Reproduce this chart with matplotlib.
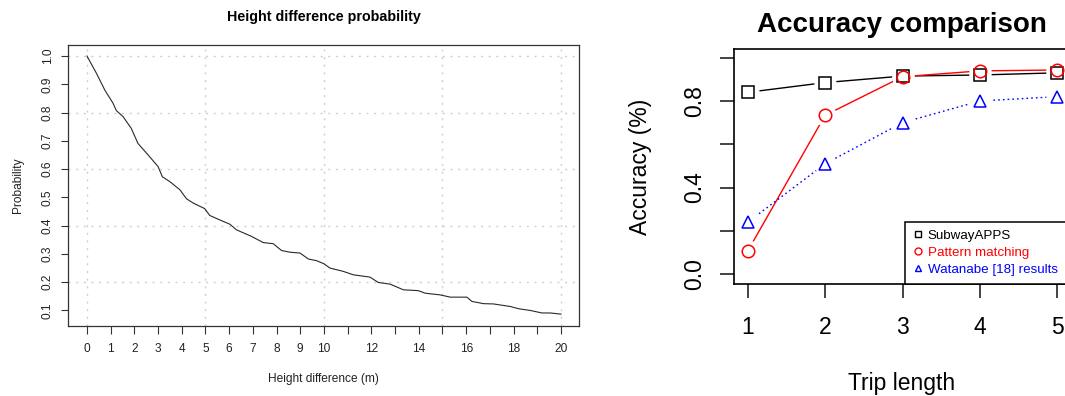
import matplotlib
matplotlib.use("Agg")
import matplotlib.pyplot as plt
from matplotlib.lines import Line2D

plt.rcParams["font.family"] = ["Liberation Sans", "DejaVu Sans"]

# Height difference vs. probability
height_diff = [0, 0.40, 0.75, 1.10, 1.24, 1.52, 1.87, 2.15, 2.58, 3.00, 3.18, 3.49,
               3.92, 4.20, 4.48, 4.97, 5.18, 5.61, 6.03, 6.31, 6.94, 7.44, 7.86,
               8.21, 8.56, 8.99, 9.34, 9.69, 10.00, 10.25, 10.82, 11.24, 11.94,
               12.29, 12.79, 13.35, 13.98, 14.27, 14.90, 15.33, 16.03, 16.24,
               16.73, 17.15, 17.86, 18.21, 18.70, 19.20, 19.55, 20.00]
probability = [1.000, 0.939, 0.880, 0.833, 0.807, 0.786, 0.744, 0.691, 0.650, 0.609,
               0.573, 0.556, 0.527, 0.495, 0.480, 0.460, 0.436, 0.420, 0.405, 0.385,
               0.362, 0.340, 0.336, 0.312, 0.306, 0.303, 0.282, 0.276, 0.265, 0.250,
               0.238, 0.226, 0.218, 0.199, 0.193, 0.173, 0.170, 0.161, 0.155, 0.147,
               0.147, 0.132, 0.124, 0.123, 0.114, 0.106, 0.100, 0.091, 0.091, 0.087]
height_ticks = list(range(0, 21))
height_labels = ["0", "1", "2", "3", "4", "5", "6", "7", "8", "9", "10", "",
                 "12", "", "14", "", "16", "", "18", "", "20"]
prob_ticks = [0.1, 0.2, 0.3, 0.4, 0.5, 0.6, 0.7, 0.8, 0.9, 1.0]
prob_labels = ["0.1", "0.2", "0.3", "0.4", "0.5", "0.6", "0.7", "0.8", "0.9", "1.0"]

# Accuracy by trip length
trip_length = [1, 2, 3, 4, 5]
subway_apps = [0.84, 0.885, 0.915, 0.92, 0.93]
pattern_matching = [0.107, 0.734, 0.912, 0.939, 0.943]
watanabe = [0.24, 0.51, 0.70, 0.80, 0.82]
acc_ticks = [0.0, 0.2, 0.4, 0.6, 0.8, 1.0]
acc_labels = ["0.0", "", "0.4", "", "0.8", ""]
series_names = ["SubwayAPPS", "Pattern matching", "Watanabe [18] results"]

W, H = 1065, 396
fig = plt.figure(figsize=(W / 100, H / 100), dpi=100)


def px_axes(left, top, right, bottom):
    return fig.add_axes([left / W, 1 - bottom / H, (right - left) / W, (bottom - top) / H])


# ---------------- left panel ----------------
ax1 = px_axes(68, 45, 579, 325.7)
ax1.plot(height_diff, probability, color="#2a2a2a", lw=0.8, zorder=3)
ax1.set_xlim(-0.8, 20.76)
ax1.set_ylim(0.046, 1.039)
for gx in [0, 5, 10, 15, 20]:
    ax1.axvline(gx, color="#cfcfcf", lw=1.0, ls=(0, (1.5, 4)), zorder=1)
for gy in [0.2, 0.4, 0.6, 0.8, 1.0]:
    ax1.axhline(gy, color="#cfcfcf", lw=1.0, ls=(0, (1.5, 4)), zorder=1)
ax1.set_xticks(height_ticks)
ax1.set_xticklabels(height_labels)
ax1.set_yticks(prob_ticks)
ax1.set_yticklabels(prob_labels)
ax1.tick_params(axis="both", direction="out", length=5.4, width=0.8,
                color="#333333", labelsize=8.6, labelcolor="#222222")
ax1.tick_params(axis="x", pad=7)
ax1.tick_params(axis="y", pad=5, labelrotation=90)
for lab in ax1.get_yticklabels():
    lab.set_va("center")
for sp in ax1.spines.values():
    sp.set_color("#333333")
    sp.set_linewidth(0.9)
ax1.set_title("Height difference probability", fontsize=10.3, fontweight="bold",
              y=1.0866, va="baseline", pad=0)
ax1.set_xlabel("Height difference (m)", fontsize=8.6, color="#222222")
ax1.xaxis.set_label_coords(0.5, -0.2006)
ax1.xaxis.label.set_va("baseline")
ax1.set_ylabel("Probability", fontsize=8.6, color="#222222")
ax1.yaxis.set_label_coords((18 - 68) / 511, 0.5)
ax1.yaxis.label.set(va="center", ha="center", rotation_mode="default")

# ---------------- right panel ----------------
ax2 = px_axes(734.3, 49, 1069.7, 284)
ax2.set_xlim(0.827, 5.16)
ax2.set_ylim(-0.045, 1.04)

styles = [
    (subway_apps, "black", "s", "-"),
    (pattern_matching, "red", "o", "-"),
    (watanabe, "blue", "^", (0, (1.2, 2.2))),
]
for vals, col, mk, ls in styles:
    ax2.plot(trip_length, vals, color=col, lw=1.0, ls=ls, zorder=2)
for vals, col, mk, ls in styles:
    # clear a small gap around each point, as in a "both" type plot
    ax2.plot(trip_length, vals, ls="none", marker="o", ms=15, mfc="white",
             mec="white", zorder=3)
for vals, col, mk, ls in styles:
    ax2.plot(trip_length, vals, ls="none", marker=mk, ms=9, mfc="none",
             mec=col, mew=1.1, zorder=4)

ax2.set_xticks(trip_length)
ax2.set_xticklabels([str(t) for t in trip_length])
ax2.set_yticks(acc_ticks)
ax2.set_yticklabels(acc_labels)
ax2.tick_params(axis="both", direction="out", length=9.8, width=1.1,
                labelsize=16.5, color="#111111")
ax2.tick_params(axis="x", pad=13)
ax2.tick_params(axis="y", pad=10.5, labelrotation=90)
for lab in ax2.get_yticklabels():
    lab.set_va("center")
for sp in ax2.spines.values():
    sp.set_linewidth(1.2)
ax2.set_title("Accuracy comparison", fontsize=20, fontweight="bold",
              y=1.0736, va="baseline", pad=0)
ax2.set_xlabel("Trip length", fontsize=16.5)
ax2.xaxis.set_label_coords(0.5, -0.451)
ax2.xaxis.label.set_va("baseline")
ax2.set_ylabel("Accuracy (%)", fontsize=16.5)
ax2.yaxis.set_label_coords((640 - 734.3) / 335.4, 0.5)
ax2.yaxis.label.set(va="center", ha="center", rotation_mode="default")

handles = [Line2D([], [], ls="none", marker=mk, ms=5, mfc="none", mec=col, mew=1.0)
           for _, col, mk, _ in styles]
leg = ax2.legend(handles, series_names, loc="lower left",
                 bbox_to_anchor=((905 - 734.3) / 335.4, 0), borderaxespad=0,
                 fontsize=9.6, labelcolor=["black", "red", "blue"],
                 frameon=True, fancybox=False, framealpha=1, edgecolor="black",
                 handlelength=0.8, handletextpad=0.3, labelspacing=0.35,
                 borderpad=0.6)
leg.get_frame().set_linewidth(1.1)

fig.savefig("out.png", dpi=100)
